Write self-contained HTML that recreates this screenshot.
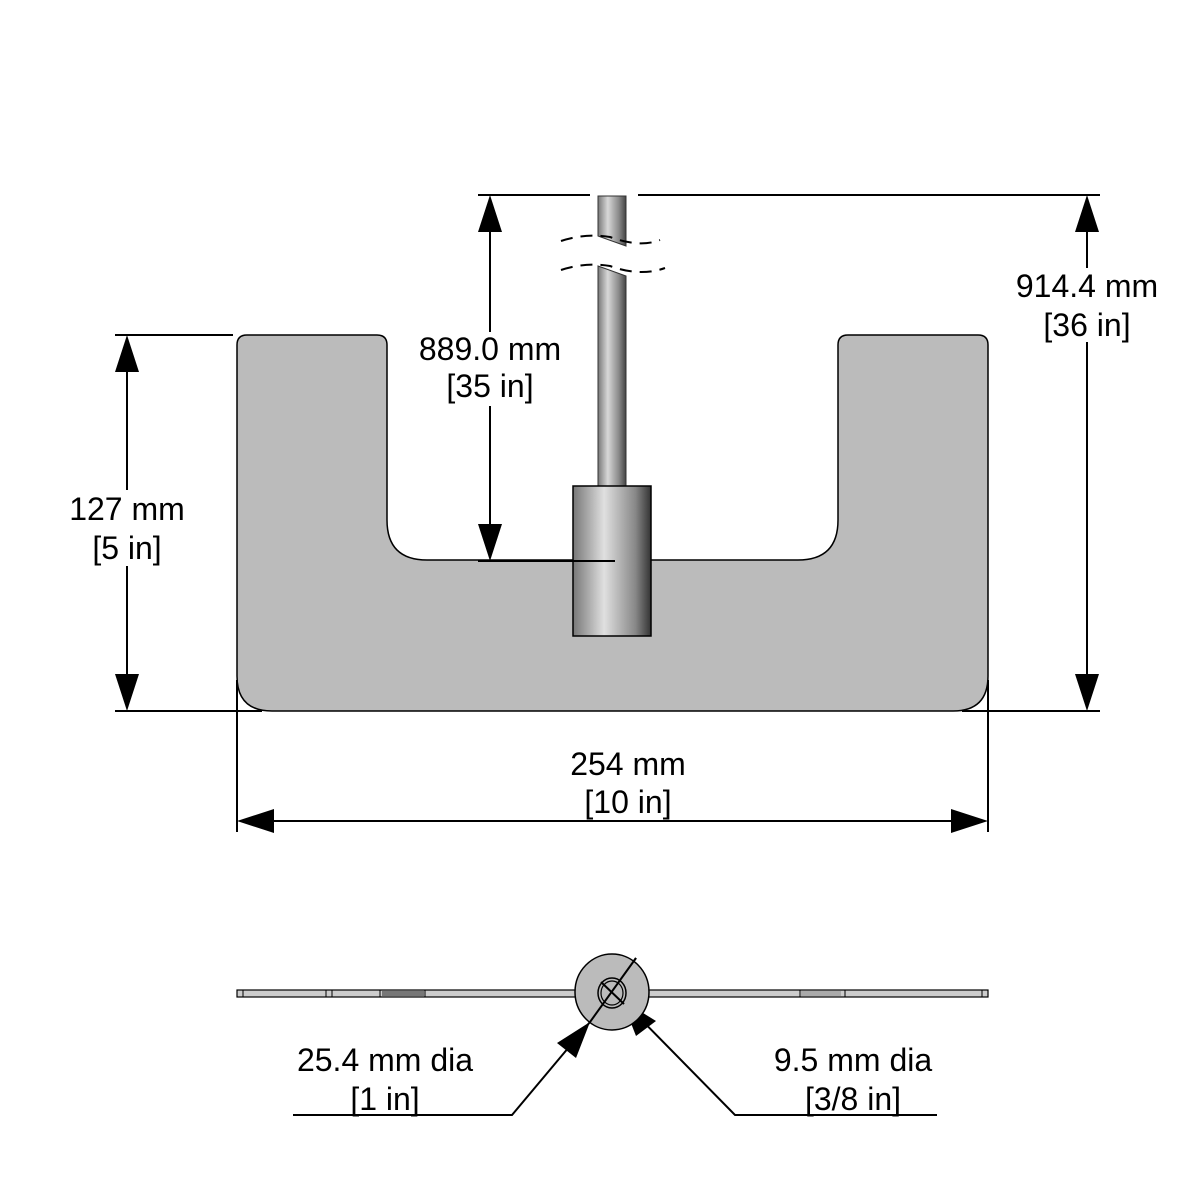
<!DOCTYPE html>
<html><head><meta charset="utf-8"><style>
html,body{margin:0;padding:0;background:#fff;}
svg{display:block}
text{font-family:"Liberation Sans",Arial,sans-serif;font-size:32px;fill:#000;text-anchor:middle}
</style></head><body>
<svg width="1200" height="1200" viewBox="0 0 1200 1200" xmlns="http://www.w3.org/2000/svg">
<defs>
<linearGradient id="rod" x1="0" x2="1" y1="0" y2="0">
<stop offset="0" stop-color="#777"/><stop offset="0.35" stop-color="#d8d8d8"/><stop offset="0.75" stop-color="#888"/><stop offset="1" stop-color="#444"/>
</linearGradient>
<linearGradient id="cyl" x1="0" x2="1" y1="0" y2="0">
<stop offset="0" stop-color="#777"/><stop offset="0.4" stop-color="#e0e0e0"/><stop offset="0.8" stop-color="#888"/><stop offset="1" stop-color="#333"/>
</linearGradient>
</defs>
<!-- main plate -->
<path d="M247,335 H377 Q387,335 387,345 V520 Q387,560 427,560 H798 Q838,560 838,520 V345 Q838,335 848,335 H978 Q988,335 988,345 V676 Q988,711 953,711 H272 Q237,711 237,676 V345 Q237,335 247,335 Z" fill="#bbbbbb" stroke="#000" stroke-width="1.5"/>
<!-- rod -->
<path d="M598,196 H626 V246 L598,236 Z" fill="url(#rod)" stroke="#333" stroke-width="1"/>
<path d="M598,266 L626,276 V486 H598 Z" fill="url(#rod)" stroke="#333" stroke-width="1"/>
<path d="M561,241 Q585,233 610,237 Q640,248 660,240 M561,270 Q585,262 610,266 Q640,277 665,268" stroke="#000" stroke-width="2" fill="none" stroke-dasharray="12,8"/>
<!-- cylinder -->
<rect x="573" y="486" width="78" height="150" fill="url(#cyl)" stroke="#000" stroke-width="1.5"/>
<!-- dim lines -->
<g stroke="#000" stroke-width="2" fill="none">
<line x1="115" y1="335" x2="233" y2="335"/>
<line x1="115" y1="711" x2="262" y2="711"/>
<line x1="127" y1="370" x2="127" y2="676"/>
<line x1="478" y1="195" x2="590" y2="195"/>
<line x1="638" y1="195" x2="1100" y2="195"/>
<line x1="478" y1="561" x2="615" y2="561"/>
<line x1="490" y1="230" x2="490" y2="526"/>
<line x1="1087" y1="230" x2="1087" y2="676"/>
<line x1="962" y1="711" x2="1100" y2="711"/>
<line x1="237" y1="680" x2="237" y2="832"/>
<line x1="988" y1="680" x2="988" y2="832"/>
<line x1="272" y1="821" x2="953" y2="821"/>
<polyline points="293,1115 512,1115 590,1022"/>
<line x1="590" y1="1022" x2="636" y2="958"/>
<polyline points="937,1115 735,1115 622,1000"/>
</g>
<g fill="#000">
<polygon points="127,335 115,372 139,372"/>
<polygon points="127,711 115,674 139,674"/>
<polygon points="490,195 478,232 502,232"/>
<polygon points="490,561 478,524 502,524"/>
<polygon points="1087,195 1075,232 1099,232"/>
<polygon points="1087,711 1075,674 1099,674"/>
<polygon points="237,821 274,809 274,833"/>
<polygon points="988,821 951,809 951,833"/>
<polygon points="590,1022 557,1043 576,1058"/>
<polygon points="622,1000 636,1036 656,1021"/>
</g>
<!-- label backgrounds -->
<g fill="#fff">
<rect x="66" y="490" width="122" height="76"/>
<rect x="414" y="332" width="152" height="74"/>
<rect x="1010" y="268" width="154" height="74"/>
</g>
<!-- bottom view plate -->
<rect x="237" y="990" width="751" height="7" fill="#ccc" stroke="#000" stroke-width="1.2"/>
<g stroke="#000" stroke-width="1" fill="none">
<line x1="243" y1="990" x2="243" y2="997"/><line x1="982" y1="990" x2="982" y2="997"/>
<line x1="326" y1="990" x2="326" y2="997"/><line x1="332" y1="990" x2="332" y2="997"/>
<line x1="380" y1="990" x2="380" y2="997"/>
<line x1="425" y1="990" x2="425" y2="997"/>
<line x1="800" y1="990" x2="800" y2="997"/><line x1="845" y1="990" x2="845" y2="997"/>
</g>
<rect x="382" y="991" width="42" height="5" fill="#777"/>
<rect x="801" y="991" width="40" height="5" fill="#aaa"/>
<ellipse cx="612" cy="992" rx="37" ry="38" fill="#bbbbbb" stroke="#000" stroke-width="1.5"/>
<ellipse cx="612" cy="993" rx="14" ry="15" fill="none" stroke="#000" stroke-width="1.5"/>
<ellipse cx="612" cy="993" rx="11" ry="12" fill="none" stroke="#000" stroke-width="1.2"/>
<line x1="601" y1="982" x2="624" y2="1004" stroke="#000" stroke-width="2"/>
<line x1="636" y1="958" x2="590" y2="1022" stroke="#000" stroke-width="2"/>
<!-- labels -->
<text x="127" y="520">127 mm</text>
<text x="127" y="559">[5 in]</text>
<text x="490" y="360">889.0 mm</text>
<text x="490" y="397">[35 in]</text>
<text x="1087" y="297">914.4 mm</text>
<text x="1087" y="336">[36 in]</text>
<text x="628" y="775">254 mm</text>
<text x="628" y="813">[10 in]</text>
<text x="385" y="1071">25.4 mm dia</text>
<text x="385" y="1110">[1 in]</text>
<text x="853" y="1071">9.5 mm dia</text>
<text x="853" y="1110">[3/8 in]</text>
</svg>
</body></html>
